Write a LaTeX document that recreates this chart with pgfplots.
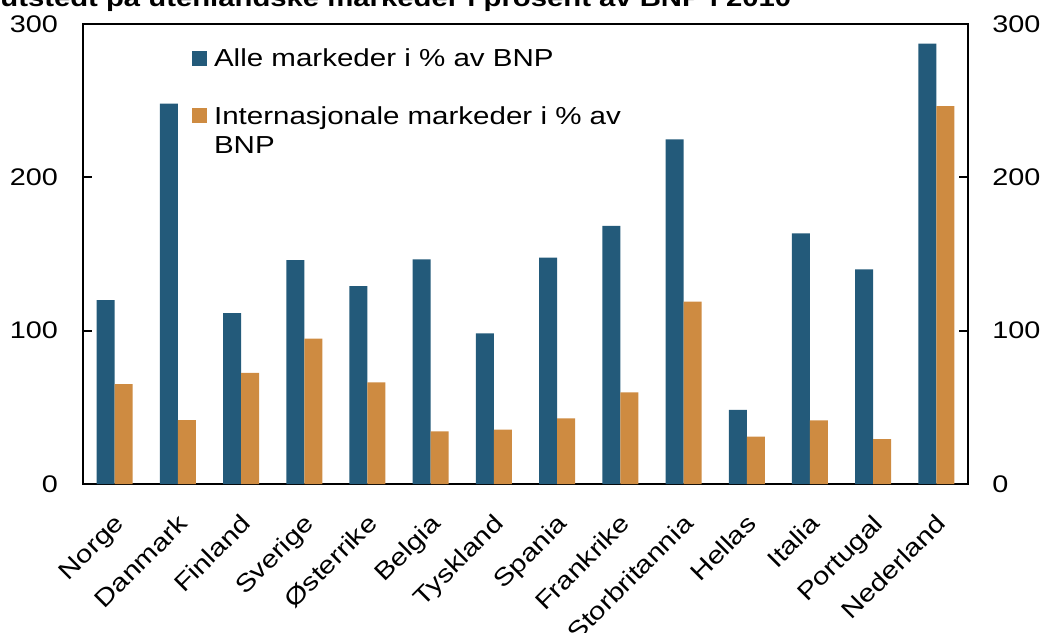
\documentclass[border=0pt]{standalone}
\usepackage{fontspec}
\setmainfont{Liberation Sans}[FakeStretch=1.2]
\usepackage{pgfplots}
\pgfplotsset{compat=1.18}
\definecolor{cblue}{HTML}{235A7A}
\definecolor{corange}{HTML}{CE8B41}
\begin{document}
\begin{tikzpicture}
\pgfplotsset{
  common/.style={
    scale only axis, width=442.5pt, height=230pt,
    xmin=-0.5, xmax=13.5, ymin=0, ymax=300,
    ytick={0,100,200,300},
    tick align=inside,
    major tick length=4.5pt,
    /pgf/number format/assume math mode=true,
    tick label style={font=\fontsize{12}{14}\selectfont},
  }
}
\begin{axis}[common,
  ybar=0pt, bar width=9pt,
  axis line style={line width=1pt, black},
  ytick pos=both,
  yticklabel pos=left,
  yticklabel style={xshift=-9pt},
  ytick style={line width=1pt, black},
  xtick={0,...,13},
  xticklabels={Norge,Danmark,Finland,Sverige,Østerrike,Belgia,Tyskland,Spania,Frankrike,Storbritannia,Hellas,Italia,Portugal,Nederland},
  xtick style={draw=none},
  xticklabel style={rotate=45, anchor=north east, font=\fontsize{12.2}{14}\selectfont, xshift=-4pt, yshift=-3pt},
  extra x ticks={0.5,1.5,...,12.5},
  extra x tick labels={},
  extra x tick style={xtick pos=bottom, tick style={draw=black, line width=1pt}},
  legend style={at={(0.116,0.965)}, anchor=north west, draw=none, fill=none,
    font=\fontsize{12.3}{14.5}\selectfont, row sep=13.5pt,
    /tikz/every even column/.append style={column sep=0pt}},
  legend cell align=left,
  legend image code/.code={\fill[draw=none] (0pt,-3.75pt) rectangle (7.5pt,3.75pt); \path (9pt,0pt);},
]
\addplot[fill=cblue, draw=none] coordinates {
 (0,120) (1,248) (2,111.5) (3,146) (4,129) (5,146.5) (6,98.3) (7,147.6) (8,168.3) (9,224.8) (10,48.3) (11,163.5) (12,140) (13,287.2)};
\addlegendentry{Alle markeder i \% av BNP}
\addplot[fill=corange, draw=none] coordinates {
 (0,65.2) (1,41.7) (2,72.4) (3,94.8) (4,66.3) (5,34.4) (6,35.4) (7,42.8) (8,59.8) (9,119) (10,30.9) (11,41.5) (12,29.3) (13,246.5)};
\addlegendentry{\begin{tabular}[t]{@{}l@{}}Internasjonale markeder i \% av\\BNP\end{tabular}}
\end{axis}
\begin{axis}[common,
  hide x axis,
  axis y line*=right,
  y axis line style={draw=none},
  ytick style={draw=none},
  yticklabel style={xshift=8.6pt},
]
\end{axis}
\node[anchor=base west, font=\bfseries\fontsize{12.2}{15}\selectfont, inner sep=0pt] at (-41.5pt,238.8pt) {utstedt på utenlandske markeder i prosent av BNP i 2010};
\pgfresetboundingbox
\useasboundingbox (-41.5pt,-74pt) rectangle (480.5pt,242pt);
\end{tikzpicture}
\end{document}
